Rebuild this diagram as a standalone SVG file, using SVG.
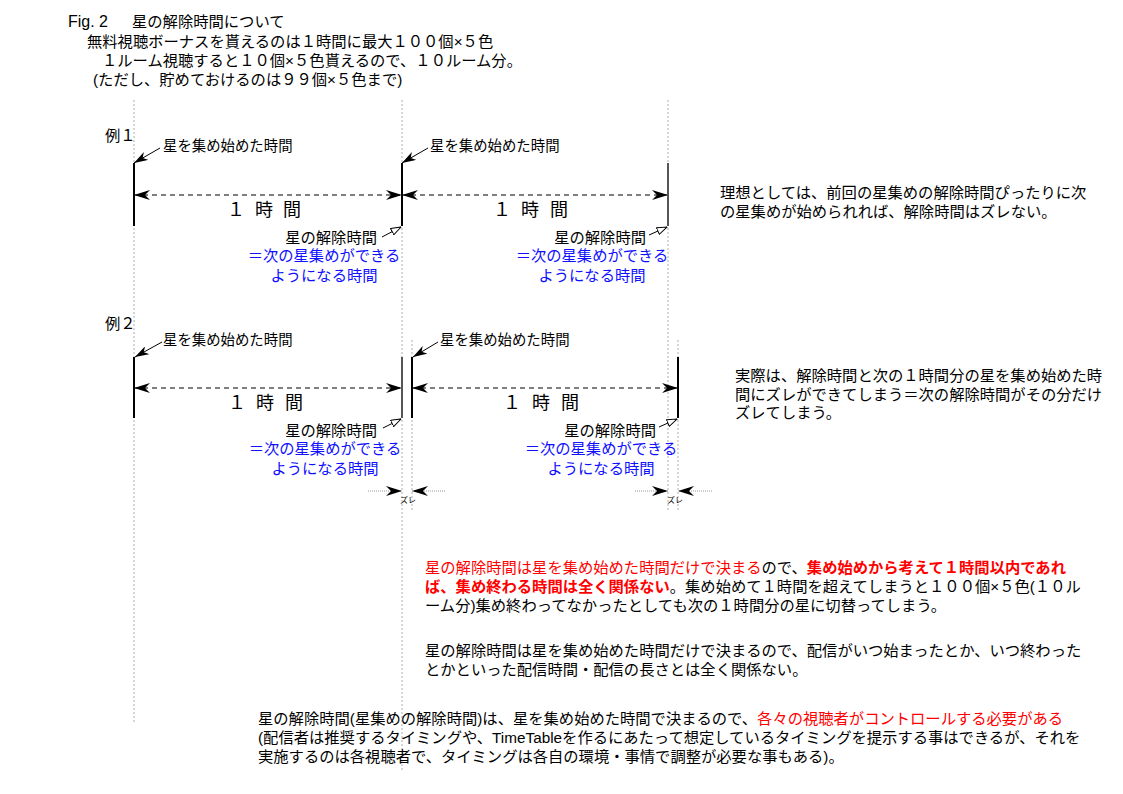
<svg xmlns="http://www.w3.org/2000/svg" width="1123" height="794" viewBox="0 0 1123 794">
<style>
text{font-family:"Liberation Sans","Noto Sans CJK JP",sans-serif;fill:#000}
.t{font-size:15.3px}
.lbl{font-size:14.4px}
.rel{font-size:15.3px;text-anchor:end}
.blue{font-size:15.3px;fill:#1010ff;text-anchor:middle}
.big{font-size:18px}
.zr{font-size:8px}
.red{fill:#ff0000}
.b{font-weight:bold}
.guide{stroke:#999;stroke-width:0.8;stroke-dasharray:2 2;fill:none}
.bar{stroke:#000;stroke-width:2}
.bar2{stroke:#555;stroke-width:2}
.dash{stroke:#000;stroke-width:1;stroke-dasharray:5 4;fill:none;marker-start:url(#barb);marker-end:url(#barb)}
.start{stroke:#000;stroke-width:1;fill:none;marker-end:url(#barb2)}
.relarr{stroke:#000;stroke-width:1;fill:none;marker-end:url(#hollow)}
.zure{stroke:#999;stroke-width:1;stroke-dasharray:1 1;fill:none;marker-end:url(#barb)}
</style>
<defs>
<marker id="barb" viewBox="0 0 16 10" refX="16" refY="5" markerWidth="16" markerHeight="10" markerUnits="userSpaceOnUse" orient="auto-start-reverse"><path d="M0,0 L16,5 L0,10 L5,5 Z" fill="#000"/></marker>
<marker id="barb2" viewBox="0 0 14 9" refX="14" refY="4.5" markerWidth="14" markerHeight="9" markerUnits="userSpaceOnUse" orient="auto"><path d="M0,0 L14,4.5 L0,9 L4,4.5 Z" fill="#000"/></marker>
<marker id="hollow" viewBox="0 0 11 8" refX="10.5" refY="4" markerWidth="11" markerHeight="8" markerUnits="userSpaceOnUse" orient="auto"><path d="M0.5,0.5 L10.5,4 L0.5,7.5 Z" fill="#fff" stroke="#000" stroke-width="1"/></marker>
</defs>
<rect width="1123" height="794" fill="#fff"/>

<g id="header">
<text class="t" x="68" y="27"><tspan font-size="16px">Fig. 2</tspan><tspan x="132">星の解除時間について</tspan></text>
<text class="t" x="87" y="47">無料視聴ボーナスを貰えるのは１時間に最大１００個×５色</text>
<text class="t" x="102" y="66">１ルーム視聴すると１０個×５色貰えるので、１０ルーム分。</text>
<text class="t" x="93" y="85">(ただし、貯めておけるのは９９個×５色まで)</text>
</g>

<g id="guides">
<line class="guide" x1="134" y1="100" x2="134" y2="722"/>
<line class="guide" x1="402" y1="100" x2="402" y2="770"/>
<line class="guide" x1="668" y1="100" x2="668" y2="512"/>
<line class="guide" x1="412" y1="340" x2="412" y2="512"/>
<line class="guide" x1="678" y1="340" x2="678" y2="512"/>
</g>

<g id="connectors">
<line class="dash" x1="134" y1="195" x2="402" y2="195"/>
<line class="dash" x1="402" y1="195" x2="668" y2="195"/>
<line class="dash" x1="134" y1="388" x2="402" y2="388"/>
<line class="dash" x1="412" y1="388" x2="678" y2="388"/>
<line class="start" x1="160" y1="148" x2="134" y2="163"/>
<line class="start" x1="428" y1="148" x2="402" y2="163"/>
<line class="start" x1="162" y1="342" x2="135" y2="357"/>
<line class="start" x1="438" y1="342" x2="413" y2="357"/>
<line class="relarr" x1="382" y1="237" x2="401" y2="227"/>
<line class="relarr" x1="649" y1="235" x2="667" y2="227"/>
<line class="relarr" x1="383" y1="428" x2="401" y2="419"/>
<line class="relarr" x1="659" y1="427" x2="677" y2="419"/>
<line class="zure" x1="368" y1="491" x2="402" y2="491"/>
<line class="zure" x1="445" y1="491" x2="412" y2="491"/>
<line class="zure" x1="635" y1="491" x2="668" y2="491"/>
<line class="zure" x1="712" y1="491" x2="678" y2="491"/>
</g>

<g id="ex1">
<text class="t" x="105" y="141">例１</text>
<line class="bar" x1="134" y1="163" x2="134" y2="226"/>
<line class="bar" x1="402" y1="163" x2="402" y2="226"/>
<line class="bar2" x1="668" y1="163" x2="668" y2="226"/>
<text class="lbl" x="163" y="151">星を集め始めた時間</text>
<text class="lbl" x="430" y="151">星を集め始めた時間</text>
<text class="big" x="227 246 255 274 283" y="216">１ 時 間</text>
<text class="big" x="493 512 521 540 550" y="216">１ 時 間</text>
<text class="rel" x="377" y="243">星の解除時間</text>
<text class="blue" x="324" y="261">＝次の星集めができる</text>
<text class="blue" x="324" y="281">ようになる時間</text>
<text class="rel" x="646" y="243">星の解除時間</text>
<text class="blue" x="592" y="261">＝次の星集めができる</text>
<text class="blue" x="592" y="281">ようになる時間</text>
</g>

<g id="note1">
<text class="t" x="720" y="198">理想としては、前回の星集めの解除時間ぴったりに次</text>
<text class="t" x="720" y="217">の星集めが始められれば、解除時間はズレない。</text>
</g>

<g id="ex2">
<text class="t" x="105" y="329">例２</text>
<line class="bar" x1="134" y1="357" x2="134" y2="418"/>
<line class="bar2" x1="402" y1="357" x2="402" y2="418"/>
<line class="bar" x1="412" y1="357" x2="412" y2="418"/>
<line class="bar" x1="678" y1="357" x2="678" y2="418"/>
<text class="lbl" x="163" y="345">星を集め始めた時間</text>
<text class="lbl" x="440" y="345">星を集め始めた時間</text>
<text class="big" x="228 247 256 275 285" y="409">１ 時 間</text>
<text class="big" x="503 522 532 551 561" y="409">１ 時 間</text>
<text class="rel" x="377" y="436">星の解除時間</text>
<text class="blue" x="325" y="454">＝次の星集めができる</text>
<text class="blue" x="325" y="474">ようになる時間</text>
<text class="rel" x="656" y="436">星の解除時間</text>
<text class="blue" x="601" y="454">＝次の星集めができる</text>
<text class="blue" x="601" y="474">ようになる時間</text>
<text class="zr" x="400" y="503">ズレ</text>
<text class="zr" x="667" y="503">ズレ</text>
</g>

<g id="note2">
<text class="t" x="735" y="381">実際は、解除時間と次の１時間分の星を集め始めた時</text>
<text class="t" x="735" y="400">間にズレができてしまう＝次の解除時間がその分だけ</text>
<text class="t" x="735" y="418">ズレてしまう。</text>
</g>

<g id="para1">
<text class="t" x="425" y="573"><tspan class="red">星の解除時間は星を集め始めた時間だけで決まる</tspan>ので、<tspan class="red b">集め始めから考えて１時間以内であれ</tspan></text>
<text class="t" x="425" y="592"><tspan class="red b">ば、集め終わる時間は全く関係ない</tspan>。集め始めて１時間を超えてしまうと１００個×５色(１０ル</text>
<text class="t" x="425" y="611">ーム分)集め終わってなかったとしても次の１時間分の星に切替ってしまう。</text>
</g>

<g id="para2">
<text class="t" x="425" y="656">星の解除時間は星を集め始めた時間だけで決まるので、配信がいつ始まったとか、いつ終わった</text>
<text class="t" x="425" y="675">とかといった配信時間・配信の長さとは全く関係ない。</text>
</g>

<g id="para3">
<text class="t" x="258" y="724">星の解除時間(星集めの解除時間)は、星を集め始めた時間で決まるので、<tspan class="red">各々の視聴者がコントロールする必要がある</tspan></text>
<text class="t" x="258" y="743">(配信者は推奨するタイミングや、TimeTableを作るにあたって想定しているタイミングを提示する事はできるが、それを</text>
<text class="t" x="258" y="762">実施するのは各視聴者で、タイミングは各自の環境・事情で調整が必要な事もある)。</text>
</g>
</svg>
